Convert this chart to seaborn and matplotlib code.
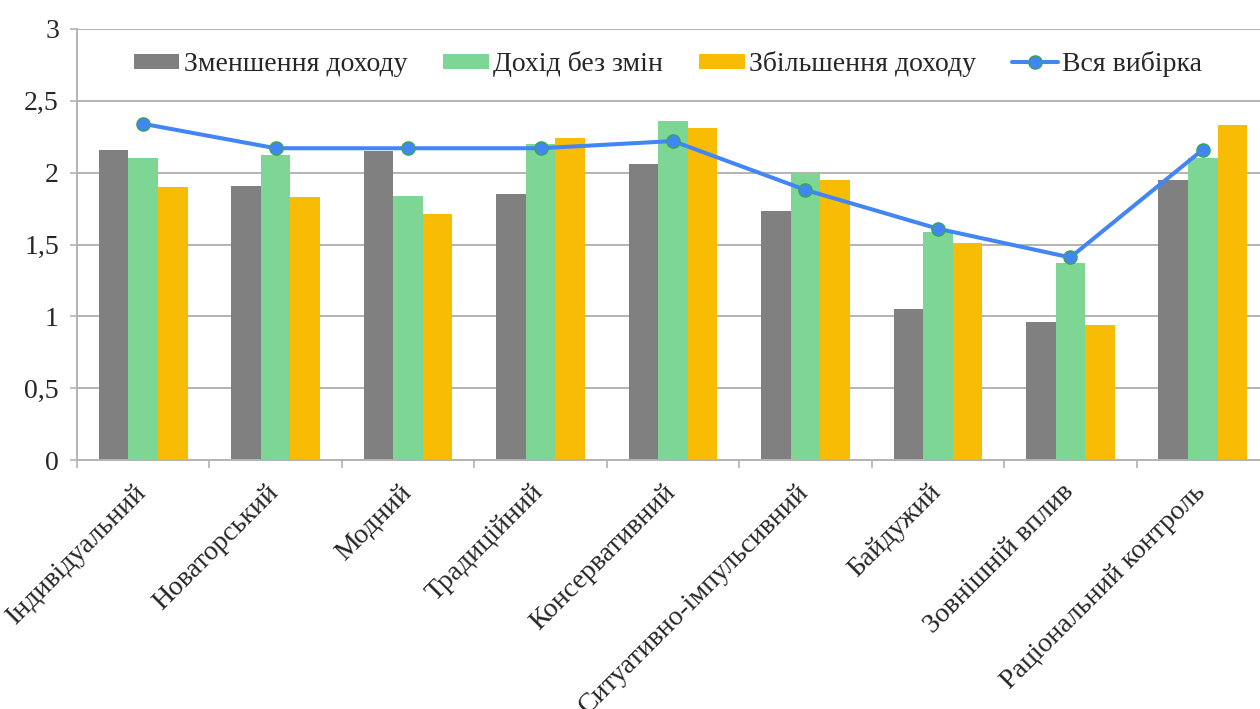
import matplotlib
matplotlib.use("Agg")
import matplotlib.pyplot as plt
import matplotlib.transforms as mtransforms
import seaborn as sns
import pandas as pd
from matplotlib.patches import Patch
from matplotlib.lines import Line2D

categories = ["Індивідуальний", "Новаторський", "Модний", "Традиційний",
              "Консервативний", "Ситуативно-імпульсивний", "Байдужий",
              "Зовнішній вплив", "Раціональний контроль"]
series_names = ["Зменшення доходу", "Дохід без змін", "Збільшення доходу"]
decrease = [2.16, 1.91, 2.15, 1.85, 2.06, 1.73, 1.05, 0.96, 1.95]
no_change = [2.10, 2.12, 1.84, 2.20, 2.36, 2.00, 1.59, 1.37, 2.10]
increase = [1.90, 1.83, 1.71, 2.24, 2.31, 1.95, 1.51, 0.94, 2.33]
line_name = "Вся вибірка"
total = [2.34, 2.17, 2.17, 2.17, 2.22, 1.88, 1.61, 1.41, 2.16]
y_ticks = [0, 0.5, 1, 1.5, 2, 2.5, 3]
y_tick_labels = ["0", "0,5", "1", "1,5", "2", "2,5", "3"]

colors = ["#808080", "#7DD694", "#F9BC04"]
line_color = "#4285F4"
marker_edge = "#34A853"
grid_color = "#B3B3B3"

sns.set_theme(style="white")
plt.rcParams["font.family"] = ["Liberation Serif", "DejaVu Serif"]

df = pd.DataFrame({
    "cat": categories * 3,
    "series": sum([[s] * len(categories) for s in series_names], []),
    "value": decrease + no_change + increase,
})

fig = plt.figure(figsize=(12.6, 7.09), dpi=100)
W, H = 1260, 709
left_px, right_px, top_px, bot_px = 77, 1269, 29, 460
ax = fig.add_axes([left_px / W, 1 - bot_px / H, (right_px - left_px) / W, (bot_px - top_px) / H])

sns.barplot(data=df, x="cat", y="value", hue="series", order=categories,
            hue_order=series_names, palette=colors, width=0.67, linewidth=0,
            saturation=1, errorbar=None, ax=ax, legend=False, zorder=3)
sns.pointplot(x=categories, y=total, order=categories, color=line_color,
              errorbar=None, ax=ax, linewidth=2.9, markersize=9.5,
              markeredgecolor=marker_edge, markeredgewidth=1.0, zorder=5)

ax.set_ylim(0, 3)
ax.set_xlim(-0.5, len(categories) - 0.5)
ax.set_yticks(y_ticks)
ax.set_yticklabels(y_tick_labels)
ax.set_xlabel("")
ax.set_ylabel("")
ax.yaxis.grid(True, color=grid_color, linewidth=1.4, zorder=0)
ax.set_axisbelow(True)
for s in ["top", "right"]:
    ax.spines[s].set_visible(False)
for s in ["left", "bottom"]:
    ax.spines[s].set_color(grid_color)
    ax.spines[s].set_linewidth(1.4)
    ax.spines[s].set_zorder(4)

fs = 20
ax.tick_params(axis="y", which="major", length=5, width=1.2, color=grid_color,
               labelsize=fs, pad=8, left=True)
ax.set_xticks(range(len(categories)))
ax.set_xticklabels(categories, rotation=45, ha="right", rotation_mode="default")
ax.set_xticks([i - 0.5 for i in range(len(categories) + 1)], minor=True)
ax.tick_params(axis="x", which="major", length=0, labelsize=fs, pad=14)
ax.tick_params(axis="x", which="minor", length=6, width=1.2, color=grid_color,
               bottom=True, direction="out")
offset = mtransforms.ScaledTranslation(8 / 100, 0, fig.dpi_scale_trans)
for lab in ax.get_xticklabels():
    lab.set_transform(lab.get_transform() + offset)

handles = [Patch(facecolor=c, edgecolor="none") for c in colors]
handles.append(Line2D([], [], color=line_color, linewidth=2.9, marker="o",
                      markersize=9.5, markeredgecolor=marker_edge, markeredgewidth=1.0))
ax.legend(handles, series_names + [line_name], loc="center",
          bbox_to_anchor=((668 - left_px) / (right_px - left_px), (bot_px - 64) / (bot_px - top_px)),
          ncol=4, frameon=False, fontsize=fs, handlelength=1.65, handleheight=0.45,
          handletextpad=0.15, columnspacing=1.3)

fig.savefig("out.png", dpi=100, facecolor="white")
